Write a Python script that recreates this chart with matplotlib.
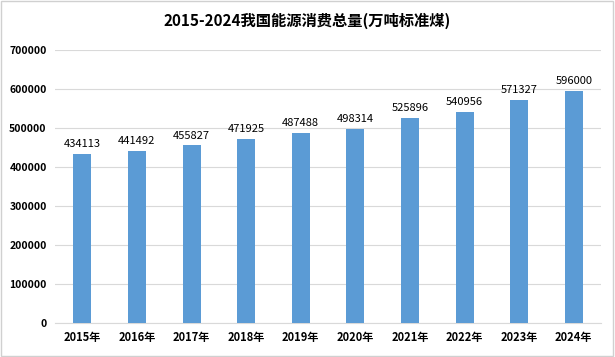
import matplotlib.pyplot as plt
from matplotlib.patches import Rectangle

plt.rcParams['font.family'] = ['Noto Sans CJK SC', 'DejaVu Sans']

# Data
years = ['2015年', '2016年', '2017年', '2018年', '2019年',
         '2020年', '2021年', '2022年', '2023年', '2024年']
consumption = [434113, 441492, 455827, 471925, 487488,
               498314, 525896, 540956, 571327, 596000]
yticks = [0, 100000, 200000, 300000, 400000, 500000, 600000, 700000]

fig = plt.figure(figsize=(6.15, 3.57), dpi=100)
ax = fig.add_axes([0.0894, 0.095, 0.888, 0.765])

x = range(len(years))
bars = ax.bar(x, consumption, width=0.33, color='#5B9BD5', zorder=3)

# value labels
for xi, v in zip(x, consumption):
    ax.text(xi, v + 12000, str(v), ha='center', va='bottom', fontsize=8, color='black')

ax.set_xlim(-0.5, len(years) - 0.5)
ax.set_ylim(0, 700000)
ax.set_yticks(yticks)
ax.set_yticklabels([str(t) for t in yticks], fontsize=7.5, fontweight='bold')
ax.set_xticks(list(x))
ax.set_xticklabels(years, fontsize=8, fontweight='bold')
ax.tick_params(length=0, pad=6)
ax.grid(axis='y', color='#D9D9D9', linewidth=0.8, zorder=0)
for s in ['top', 'right', 'left']:
    ax.spines[s].set_visible(False)
ax.spines['bottom'].set_color('#D9D9D9')

fig.suptitle('2015-2024我国能源消费总量(万吨标准煤)', y=0.965, fontsize=11, fontweight='bold')

# light border around figure
fig.patches.append(Rectangle((0.002, 0.003), 0.995, 0.994, transform=fig.transFigure,
                             fill=False, edgecolor='#D0D0D0', linewidth=1))

fig.savefig('out.png', dpi=100)
